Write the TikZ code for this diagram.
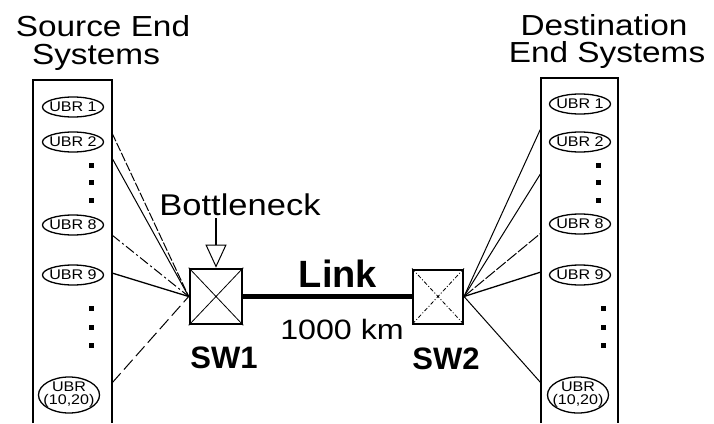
\documentclass[tikz,border=0pt]{standalone}
\usepackage{fontspec}
\setmainfont{Liberation Sans}
\newfontfamily\widefont{Liberation Sans}[FakeStretch=1.15]
\usetikzlibrary{arrows.meta,shapes.geometric}

\begin{document}
\begin{tikzpicture}[x=1pt,y=-1pt,
  title/.style={font=\widefont\fontsize{29}{31}\selectfont, anchor=base, inner sep=0pt},
  plain/.style={font=\widefont\fontsize{#1}{#1}\selectfont, anchor=base, inner sep=0pt},
  heavy/.style={font=\bfseries\fontsize{#1}{#1}\selectfont, anchor=base, inner sep=0pt},
  ubr/.style={ellipse, draw, line width=1.3pt, minimum width=61pt, minimum height=20pt,
    inner xsep=-4pt, inner ysep=-1pt, font=\widefont\fontsize{14}{13}\selectfont, align=center},
  dotsq/.style={rectangle, fill=black, minimum size=5pt, inner sep=0pt},
  switchbox/.style={rectangle, draw, minimum width=52pt, minimum height=55pt, inner sep=0pt},
  frame/.style={line width=1.7pt},
  wire/.style={line width=1pt},
]
\useasboundingbox (0,0) rectangle (714,423);

% headings
\node[title] (srcA) at (103,36) {Source End};
\node[title] (srcB) at (96,64) {Systems};
\node[title] (dstA) at (604,35) {Destination};
\node[title] (dstB) at (607,62) {End Systems};

% end-system columns (open at the bottom)
\draw[frame] (33,423) -- (33,80) -- (112,80) -- (112,423);
\draw[frame] (541,423) -- (541,78) -- (618,78) -- (618,423);

% source end systems
\node[ubr] (s1) at (73,107) {UBR 1};
\node[ubr] (s2) at (73,142) {UBR 2};
\node[ubr] (s8) at (73,225) {UBR 8};
\node[ubr] (s9) at (73,275) {UBR 9};
\node[ubr, minimum height=36pt] (s10) at (69,395) {UBR\\(10,20)};
\foreach \n/\y in {a/165,b/182,c/200,d/308,e/327,f/345}
  \node[dotsq] (sd\n) at (91,\y) {};

% destination end systems
\node[ubr] (d1) at (580,104) {UBR 1};
\node[ubr] (d2) at (580,142) {UBR 2};
\node[ubr] (d8) at (580,224) {UBR 8};
\node[ubr] (d9) at (580,275) {UBR 9};
\node[ubr, minimum height=36pt] (d10) at (578,395) {UBR\\(10,20)};
\foreach \n/\y in {a/165,b/182,c/200}
  \node[dotsq] (dd\n) at (598,\y) {};
\foreach \n/\y in {d/308,e/327,f/345}
  \node[dotsq] (dd\n) at (603,\y) {};

% switches
\node[switchbox, line width=2.6pt] (sw1) at (216,296.5) {};
\draw[line width=0.8pt] (sw1.north west) -- (sw1.south east)
                        (sw1.north east) -- (sw1.south west);
\node[switchbox, minimum width=50pt, minimum height=54pt, line width=2pt] (sw2) at (438,296.5) {};
\draw[line width=0.8pt, dash pattern=on 4pt off 2pt on 1pt off 2pt]
  (sw2.north west) -- (sw2.south east)
  (sw2.north east) -- (sw2.south west);

% bottleneck link
\draw[line width=5pt] (sw1.east) -- (sw2.west);
\node[heavy=38] (link) at (338,287) {Link};
\node[plain=28] (dist) at (342,339) {1000 km};
\node[heavy=31] (lab1) at (224,368) {SW1};
\node[heavy=31] (lab2) at (446,369) {SW2};

\node[plain=30] (bn) at (240,215) {Bottleneck};
\draw[line width=1.3pt, -{Triangle[open,length=23pt,width=21pt,line width=1pt]}]
  (sw1.north |- 0,218) coordinate (bnfoot) -- (sw1.north);

% source connectors
\coordinate (l1) at (112,133);
\coordinate (l2) at (112,158);
\coordinate (l3) at (112,235);
\coordinate (l4) at (112,273);
\coordinate (l5) at (112,383);
\draw[wire, dash pattern=on 9pt off 2pt] (l1) -- (sw1.west);
\draw[wire] (l2) -- (sw1.west);
\draw[wire, dash pattern=on 10pt off 3pt on 2pt off 3pt] (l3) -- (sw1.west);
\draw[wire, line width=1.3pt] (l4) -- (sw1.west);
\draw[wire, dash pattern=on 13pt off 5pt] (l5) -- (sw1.west);

% destination connectors
\coordinate (r1) at (541,128);
\coordinate (r2) at (541,173);
\coordinate (r3) at (541,233);
\coordinate (r4) at (541,272);
\coordinate (r5) at (541,383);
\draw[wire] (sw2.east) -- (r1);
\draw[wire] (sw2.east) -- (r2);
\draw[wire, dash pattern=on 12pt off 2pt] (sw2.east) -- (r3);
\draw[wire, line width=1.3pt] (sw2.east) -- (r4);
\draw[wire] (sw2.east) -- (r5);
\end{tikzpicture}
\end{document}
